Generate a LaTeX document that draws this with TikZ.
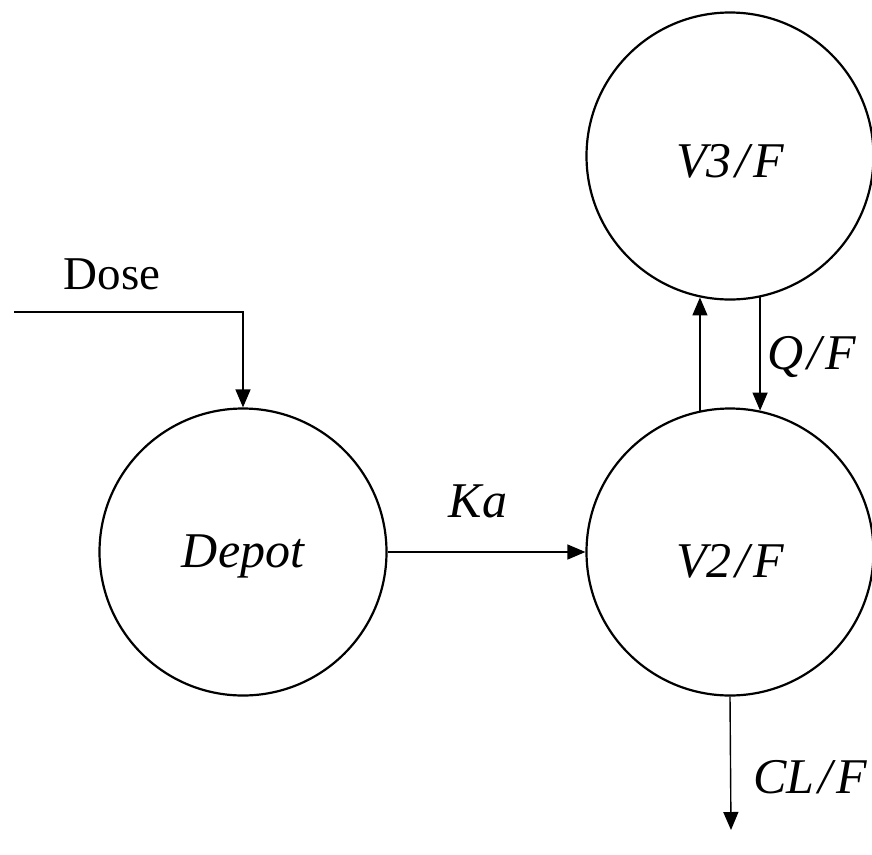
\documentclass[tikz,border=0pt]{standalone}
\usepackage{fontspec}
\setmainfont{Liberation Serif}
\usetikzlibrary{arrows.meta}
\newcommand{\mysl}{\kern4pt/\kern4pt}
\newcommand{\lowered}[2]{\raisebox{-#1}[0pt][0pt]{#2}}
\tikzset{
  comp/.style={circle, draw, line width=2.2pt, minimum size=287pt, inner sep=0pt, font=\fontsize{50}{54}\selectfont\itshape},
  flow/.style={line width=1.4pt, -{Triangle[length=18pt,width=15pt]}},
  lbl/.style={font=\fontsize{50}{54}\selectfont\itshape, inner sep=0pt},
}
\begin{document}
\begin{tikzpicture}[x=1pt,y=-1pt]
\useasboundingbox (0,0) rectangle (872,854);
\node[comp] (depot) at (243,552) {\lowered{15pt}{Depot}};
\node[comp] (v2) at (730,552) {\lowered{25pt}{V2\mysl F}};
\node[comp] (v3) at (730,156) {\lowered{21pt}{V3\mysl F}};
\coordinate (dosestart) at (14,312);
\coordinate (clend) at (731,830);
\node[inner sep=0pt, font=\fontsize{47}{50}\selectfont] (dose) at (112,274) {Dose};
\node[lbl] (ka) at (478,501) {Ka};
\node[lbl] (qf) at (812,357) {Q\mysl F};
\node[lbl] (clf) at (810,777) {CL\mysl F};
\draw[flow] (dosestart) -- (dosestart -| depot) -- (depot.north);
\draw[flow] (depot.east) -- (v2.west);
\draw[flow] (v2.102) -- (v3.258);
\draw[flow] (v3.282) -- (v2.78);
\draw[flow] (v2.south) -- (clend);
\end{tikzpicture}
\end{document}
